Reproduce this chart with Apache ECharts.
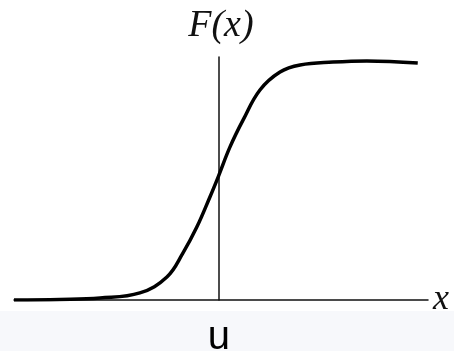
<!DOCTYPE html>
<html>
<head>
<meta charset="utf-8">
<script src="https://cdn.jsdelivr.net/npm/echarts@6/dist/echarts.min.js"></script>
<style>
 html,body{margin:0;padding:0;background:#fff;}
 #main{width:454px;height:351px;}
</style>
</head>
<body>
<div id="main"></div>
<script>
 // curve points (x relative to u, F from 0 to 1)
 var xs = [-5.0, -3.88, -2.9, -1.93, -1.27, -0.88, -0.54, -0.22, -0.02, 0.27, 0.59, 1.0, 1.49, 1.98, 2.78, 3.61, 4.85];
 var fs = [0.0, 0.002, 0.008, 0.029, 0.095, 0.193, 0.300, 0.424, 0.506, 0.630, 0.741, 0.864, 0.938, 0.967, 0.979, 0.984, 0.975];
 var uLabel = 'u';

 var curve = [];
 for (var i = 0; i < xs.length; i++) {
	curve.push([xs[i], fs[i]]);
 }

 var myChart = echarts.init(document.getElementById('main'));
 var option = {
	animation: false,
	backgroundColor: '#fff',
	graphic: [{
		type: 'rect',
		z: -10,
		shape: {x: 0, y: 311, width: 454, height: 40},
		style: {fill: '#f7f8fb'}
	}],
	grid: {
		left: 14,
		right: 26,
		top: 57,
		bottom: 51,
		containLabel: false,
		outerBoundsMode: 'none'
	},
	xAxis: {
		type: 'value',
		min: -5,
		max: 5.1,
		interval: 1,
		name: 'x',
		nameLocation: 'end',
		nameGap: 5,
		nameTextStyle: {
			fontFamily: 'Liberation Serif',
			fontStyle: 'italic',
			fontSize: 36,
			color: '#111',
			verticalAlign: 'middle',
			padding: [0, 0, 6, 0]
		},
		axisLine: {
			lineStyle: {color: '#111', width: 1.5}
		},
		axisTick: {show: false},
		splitLine: {show: false},
		axisLabel: {
			show: true,
			margin: 18,
			color: '#000',
			fontFamily: 'Liberation Sans',
			fontSize: 40,
			showMinLabel: true,
			showMaxLabel: false,
			formatter: function (v) {
				return v === 0 ? uLabel : '';
			}
		}
	},
	yAxis: {
		type: 'value',
		min: 0,
		max: 1,
		name: 'F(x)',
		nameLocation: 'end',
		nameGap: 12,
		nameTextStyle: {
			fontFamily: 'Liberation Serif',
			fontStyle: 'italic',
			fontSize: 38,
			color: '#111',
			align: 'center',
			padding: [0, 0, 0, 4]
		},
		axisLine: {
			show: true,
			onZero: true,
			lineStyle: {color: '#111', width: 1.5}
		},
		axisTick: {show: false},
		axisLabel: {show: false},
		splitLine: {show: false}
	},
	series: [{
		type: 'line',
		data: curve,
		smooth: 0.4,
		showSymbol: false,
		lineStyle: {color: '#000', width: 3.5}
	}]
 };
 myChart.setOption(option);
</script>
</body>
</html>
